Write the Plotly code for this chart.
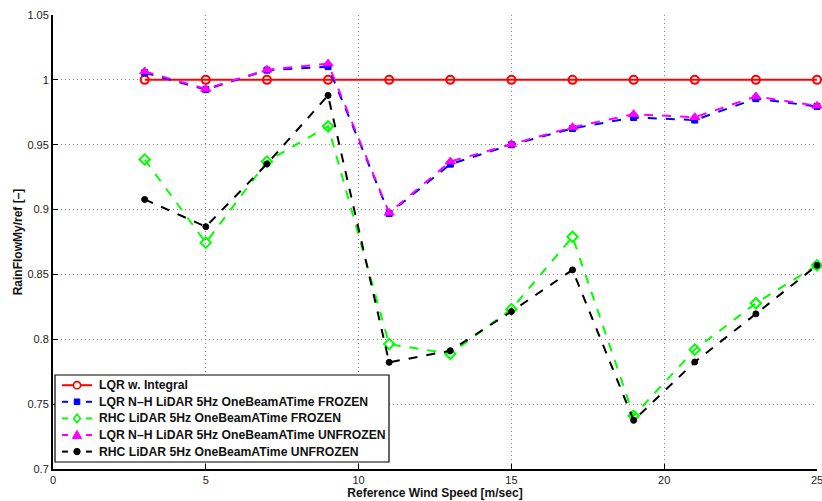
import plotly.graph_objects as go

wind_speed = [3, 5, 7, 9, 11, 13, 15, 17, 19, 21, 23, 25]

lqr_integral = [1, 1, 1, 1, 1, 1, 1, 1, 1, 1, 1, 1]
lqr_nh_frozen = [1.0055, 0.9925, 1.0075, 1.0102, 0.897, 0.935, 0.950, 0.9625, 0.971, 0.969, 0.9855, 0.9795]
rhc_frozen = [0.9386, 0.8745, 0.937, 0.9642, 0.7963, 0.7888, 0.8232, 0.879, 0.741, 0.792, 0.8278, 0.857]
lqr_nh_unfrozen = [1.0065, 0.993, 1.0078, 1.0125, 0.8975, 0.937, 0.9504, 0.9635, 0.9735, 0.9712, 0.9872, 0.980]
rhc_unfrozen = [0.9078, 0.8868, 0.9352, 0.988, 0.7822, 0.7912, 0.8214, 0.8535, 0.7375, 0.7825, 0.8196, 0.857]

series_names = [
    "LQR w. Integral",
    "LQR N\u2013H LiDAR 5Hz OneBeamATime FROZEN",
    "RHC LiDAR 5Hz OneBeamATime FROZEN",
    "LQR N\u2013H LiDAR 5Hz OneBeamATime UNFROZEN",
    "RHC LiDAR 5Hz OneBeamATime UNFROZEN",
]

x_ticks = [0, 5, 10, 15, 20, 25]
y_ticks = [0.7, 0.75, 0.8, 0.85, 0.9, 0.95, 1.0, 1.05]
y_tick_labels = ["0.7", "0.75", "0.8", "0.85", "0.9", "0.95", "1", "1.05"]

styles = [
    dict(color="#ff0000", dash="solid", symbol="circle-open", size=8, mline=2),
    dict(color="#0000ff", dash="dash", symbol="square", size=6, mline=1),
    dict(color="#00ff00", dash="dash", symbol="diamond-open", size=8, mline=2),
    dict(color="#ff00ff", dash="dash", symbol="triangle-up", size=9, mline=1),
    dict(color="#000000", dash="dash", symbol="circle", size=6, mline=1),
]

series = [lqr_integral, lqr_nh_frozen, rhc_frozen, lqr_nh_unfrozen, rhc_unfrozen]

# figure / plot-area geometry in pixels
W, H = 822, 501
ML, MR, MT, MB = 53, 5, 15, 32
PW, PH = W - ML - MR, H - MT - MB


def px(xp):
    return (xp - ML) / PW


def py(yp):
    return (H - MB - yp) / PH


fig = go.Figure()
for name, values, st in zip(series_names, series, styles):
    fig.add_trace(go.Scatter(
        x=wind_speed,
        y=values,
        name=name,
        mode="lines+markers",
        line=dict(color=st["color"], width=2, dash=st["dash"]),
        marker=dict(symbol=st["symbol"], size=st["size"], color=st["color"],
                    line=dict(color=st["color"], width=st["mline"])),
        cliponaxis=False,
        showlegend=False,
    ))

font_family = "Liberation Sans, Arial, sans-serif"

# ---- legend box drawn with shapes and annotations (MATLAB-like compact legend)
shapes = []
annotations = []
box_l, box_r, box_t, box_b = 55, 389, 375, 462
shapes.append(dict(type="rect", xref="paper", yref="paper",
                   x0=px(box_l), x1=px(box_r), y0=py(box_b), y1=py(box_t),
                   fillcolor="white", line=dict(color="black", width=1.2), layer="above"))

row0, row_step = 385.2, 16.6
sample_l, sample_r, sample_c = 62, 92, 77
for i, (name, st) in enumerate(zip(series_names, styles)):
    yc = row0 + i * row_step
    col = st["color"]
    if st["dash"] == "solid":
        shapes.append(dict(type="line", xref="paper", yref="paper",
                           x0=px(sample_l), x1=px(sample_r), y0=py(yc), y1=py(yc),
                           line=dict(color=col, width=2), layer="above"))
    else:
        for a, b in ((sample_l, sample_l + 6), (sample_r - 6, sample_r)):
            shapes.append(dict(type="line", xref="paper", yref="paper",
                               x0=px(a), x1=px(b), y0=py(yc), y1=py(yc),
                               line=dict(color=col, width=2), layer="above"))
    sym = st["symbol"]
    if sym == "circle-open":
        r = 3.6
        shapes.append(dict(type="circle", xref="paper", yref="paper",
                           x0=px(sample_c - r), x1=px(sample_c + r),
                           y0=py(yc + r), y1=py(yc - r),
                           fillcolor="white", line=dict(color=col, width=1.6), layer="above"))
    elif sym == "circle":
        r = 3.2
        shapes.append(dict(type="circle", xref="paper", yref="paper",
                           x0=px(sample_c - r), x1=px(sample_c + r),
                           y0=py(yc + r), y1=py(yc - r),
                           fillcolor=col, line=dict(color=col, width=1), layer="above"))
    elif sym == "square":
        r = 2.8
        shapes.append(dict(type="rect", xref="paper", yref="paper",
                           x0=px(sample_c - r), x1=px(sample_c + r),
                           y0=py(yc + r), y1=py(yc - r),
                           fillcolor=col, line=dict(color=col, width=1), layer="above"))
    elif sym == "diamond-open":
        r = 4.2
        pts = [(sample_c, yc - r), (sample_c + r * 0.8, yc), (sample_c, yc + r), (sample_c - r * 0.8, yc)]
        path = "M " + " L ".join(f"{px(a):.5f},{py(b):.5f}" for a, b in pts) + " Z"
        shapes.append(dict(type="path", xref="paper", yref="paper", path=path,
                           fillcolor="white", line=dict(color=col, width=1.6), layer="above"))
    elif sym == "triangle-up":
        r = 4.6
        pts = [(sample_c, yc - r), (sample_c + r, yc + r * 0.75), (sample_c - r, yc + r * 0.75)]
        path = "M " + " L ".join(f"{px(a):.5f},{py(b):.5f}" for a, b in pts) + " Z"
        shapes.append(dict(type="path", xref="paper", yref="paper", path=path,
                           fillcolor=col, line=dict(color=col, width=1), layer="above"))
    annotations.append(dict(x=px(97), y=py(yc), xref="paper", yref="paper",
                            xanchor="left", yanchor="middle", showarrow=False,
                            text=f"<b>{name}</b>",
                            font=dict(family=font_family, size=12.2, color="#111111")))

fig.update_layout(
    width=W,
    height=H,
    margin=dict(l=ML, r=MR, t=MT, b=MB, autoexpand=False),
    paper_bgcolor="white",
    plot_bgcolor="white",
    font=dict(family=font_family, size=11, color="#222222"),
    showlegend=False,
    shapes=shapes,
    annotations=annotations,
    xaxis=dict(
        range=[0, 25.0001],
        tickvals=x_ticks,
        ticklabeloverflow="allow",
        automargin=False,
        ticks="inside", ticklen=5, tickcolor="black",
        showline=True, linecolor="black", linewidth=2,
        showgrid=True, gridcolor="#888888", griddash="1px,3px", gridwidth=1,
        zeroline=False,
        title=dict(text="<b>Reference Wind Speed [m/sec]</b>", standoff=2,
                   font=dict(family=font_family, size=12, color="#111111")),
    ),
    yaxis=dict(
        range=[0.7, 1.05],
        tickvals=y_ticks,
        ticktext=y_tick_labels,
        automargin=False,
        ticks="inside", ticklen=5, tickcolor="black",
        showline=True, linecolor="black", linewidth=2,
        showgrid=True, gridcolor="#888888", griddash="1px,3px", gridwidth=1,
        zeroline=False,
        title=dict(text="<b>RainFlowMy/ref [\u2013]</b>", standoff=2,
                   font=dict(family=font_family, size=12, color="#111111")),
    ),
)

fig.write_html("out.html")
